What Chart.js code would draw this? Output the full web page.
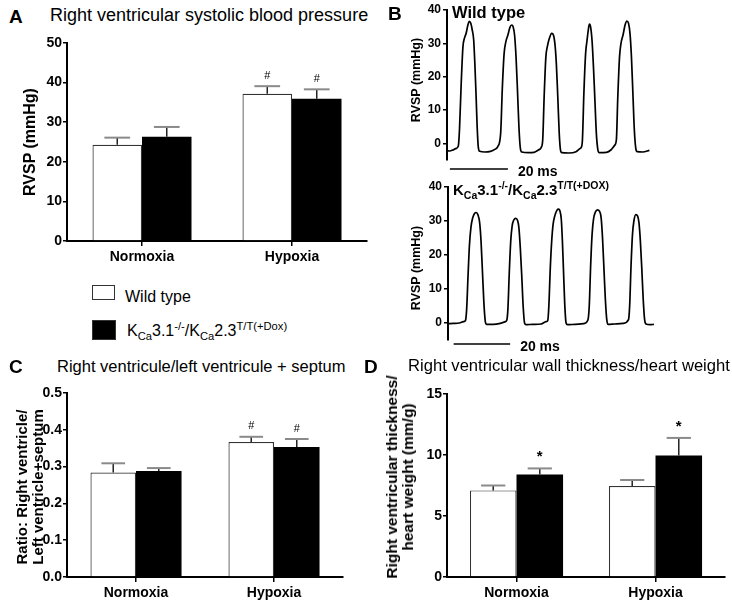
<!DOCTYPE html>
<html>
<head>
<meta charset="utf-8">
<script src="https://cdn.jsdelivr.net/npm/chart.js@4.4.0/dist/chart.umd.min.js"></script>
<style>
  body { margin: 0; background: #fff; }
  #page { position: relative; width: 732px; height: 602px; overflow: hidden; font-family: "Liberation Sans", Arial, sans-serif; color: #000; }
  canvas { position: absolute; }
  .t { position: absolute; white-space: nowrap; transform: translateY(-50%); line-height: 1; }
  .letter { font-weight: bold; font-size: 19px; }
  .title { font-size: 16.5px; }
  .ylab { position: absolute; white-space: nowrap; font-weight: bold; text-align: center; line-height: 1; transform: translate(-50%, -50%) rotate(-90deg); }
  .box { position: absolute; border: 1px solid #333; box-sizing: border-box; }
  sub, sup { font-size: 70%; line-height: 0; }
</style>
</head>
<body>
<div id="page">
  <canvas id="chartA" width="380" height="244" style="left:0;top:28px"></canvas>
  <canvas id="chartB1" width="352" height="180" style="left:380px;top:0"></canvas>
  <canvas id="chartB2" width="352" height="178" style="left:380px;top:177px"></canvas>
  <canvas id="chartC" width="360" height="222" style="left:0;top:380px"></canvas>
  <canvas id="chartD" width="352" height="222" style="left:380px;top:380px"></canvas>

  <div class="t letter" style="left:9px;top:16px">A</div>
  <div class="t title" style="left:50px;top:15px;font-size:18px">Right ventricular systolic blood pressure</div>
  <div class="ylab" style="left:30px;top:142px;font-size:16px">RVSP (mmHg)</div>

  <div class="box" style="left:92px;top:285px;width:23px;height:15px;background:#fff"></div>
  <div class="t" style="left:125px;top:297px;font-size:16px">Wild type</div>
  <div class="box" style="left:92px;top:320px;width:24px;height:20px;background:#000"></div>
  <div class="t" style="left:127px;top:331px;font-size:16px">K<sub>Ca</sub>3.1<sup>-/-</sup>/K<sub>Ca</sub>2.3<sup>T/T(+Dox)</sup></div>

  <div class="t letter" style="left:388px;top:13px">B</div>
  <div class="t" style="left:452px;top:12px;font-size:16.5px;font-weight:bold">Wild type</div>
  <div class="ylab" style="left:416px;top:80px;font-size:12.5px">RVSP (mmHg)</div>
  <div class="t" style="left:453px;top:189px;font-size:15px;font-weight:bold">K<sub>Ca</sub>3.1<sup>-/-</sup>/K<sub>Ca</sub>2.3<sup>T/T(+DOX)</sup></div>
  <div class="ylab" style="left:416px;top:268px;font-size:12.5px">RVSP (mmHg)</div>

  <div class="t letter" style="left:9px;top:366px">C</div>
  <div class="t title" style="left:57px;top:366px">Right ventricule/left ventricule + septum</div>
  <div class="ylab" style="left:30px;top:487px;font-size:15px;line-height:16px">Ratio: Right ventricle/<br>Left ventricle+septum</div>

  <div class="t letter" style="left:364px;top:366px">D</div>
  <div class="t title" style="left:408px;top:366px;font-size:16.6px">Right ventricular wall thickness/heart weight</div>
  <div class="ylab" style="left:400px;top:477px;font-size:15.5px;line-height:16px">Right ventricular thickness/<br>heart weight (mm/g)</div>
</div>

<script>
// ---- data ----
const groups = ['Normoxia', 'Hypoxia'];

// A: right ventricular systolic pressure (mmHg)
const rvspWT = [24.3, 37.2];
const rvspWTsem = [1.8, 1.9];
const rvspKO = [26.3, 35.9];
const rvspKOsem = [2.5, 2.4];
const rvspWTmarks = ['', '#'];
const rvspKOmarks = ['', '#'];
const rvspTicks = [0, 10, 20, 30, 40, 50];

// C: RV / (LV + septum)
const ratioWT = [0.284, 0.367];
const ratioWTsem = [0.025, 0.014];
const ratioKO = [0.288, 0.353];
const ratioKOsem = [0.008, 0.022];
const ratioWTmarks = ['', '#'];
const ratioKOmarks = ['', '#'];
const ratioTicks = [0, 0.1, 0.2, 0.3, 0.4, 0.5];

// D: RV wall thickness / heart weight (mm/g)
const thickWT = [7.1, 7.45];
const thickWTsem = [0.4, 0.5];
const thickKO = [8.4, 9.95];
const thickKOsem = [0.5, 1.45];
const thickWTmarks = ['', ''];
const thickKOmarks = ['*', '*'];
const thickTicks = [0, 5, 10, 15];

// B: pressure traces (time in ms, pressure in mmHg)
const wtTime = [0, 1, 2, 3, 3.9,
  4.3, 4.9, 5.5, 6.0, 6.6, 7.2, 7.7, 8.2, 8.7, 9.2, 9.6, 10.0, 10.4, 10.8, 11.3,
  13, 15, 16.5, 17.5,
  18.5, 19.1, 19.7, 20.3, 21.0, 21.7, 22.3, 22.8, 23.3, 23.8, 24.3, 24.8, 25.3, 25.8,
  28, 30, 31.5, 32.5,
  33.0, 33.5, 34.1, 34.6, 35.3, 36.1, 36.7, 37.2, 37.7, 38.2, 38.7, 39.1, 39.6,
  42, 44.5, 45.8, 46.4,
  46.7, 47.2, 47.8, 48.3, 48.8, 49.1, 49.5, 50.0, 50.5, 51.0, 51.5, 52.0, 52.5,
  55, 56.5, 57.8,
  58.4, 58.9, 59.5, 60.0, 60.7, 61.4, 62.0, 62.6, 63.1, 63.6, 64.1, 64.6, 65.1, 65.6,
  67.5, 69.8];
const wtPressure = [-2.2, -2.3, -2.0, -1.6, -0.8,
  4, 18, 29, 31.5, 33, 35.5, 36.6, 36, 34, 31, 24, 15, 5, -1.2, -2.4,
  -2.6, -2.4, -1.8, -1.0,
  3, 17, 27, 30.5, 32.5, 34.8, 35.5, 35, 32.5, 26, 16, 5, -1.5, -2.6,
  -2.8, -2.7, -2.0, -1.2,
  1, 14, 26, 29, 31.5, 33, 32.5, 30, 24, 14, 3, -1.8, -2.8,
  -2.9, -2.5, -1.6, -1.0,
  1, 15, 27, 31, 34.5, 35.8, 35, 31, 23, 13, 3, -1.8, -2.8,
  -2.7, -2.0, -0.6,
  1, 14, 26, 30, 32.5, 35.5, 36.7, 36, 33, 26, 15, 4, -1.5, -2.5,
  -2.6, -2.1];

const koTime = [0, 2, 4, 5.5, 6.2,
  6.6, 7.1, 7.6, 8.1, 8.7, 9.4, 10.0, 10.6, 11.2, 11.7, 12.2, 12.7, 13.2, 13.7,
  16, 18.5, 20.3, 20.8,
  21.2, 21.7, 22.2, 22.7, 23.3, 24.0, 24.6, 25.1, 25.6, 26.1, 26.6, 27.1, 27.6,
  30, 33, 34.7, 35.3,
  35.7, 36.2, 36.7, 37.2, 37.9, 38.6, 39.1, 39.6, 40.1, 40.5, 40.9, 41.3, 41.8, 42.3,
  45, 48, 49.5,
  50.0, 50.5, 51.0, 51.5, 52.2, 52.9, 53.6, 54.2, 54.7, 55.2, 55.7, 56.2, 56.7,
  59, 62, 63.9,
  64.3, 64.8, 65.3, 65.8, 66.5, 67.1, 67.6, 68.1, 68.6, 69.1, 69.6, 70.1,
  71.5, 72.9];
const koPressure = [-0.2, -0.1, 0.0, 0.4, 0.8,
  4, 14, 23, 28, 30.8, 32.2, 32.5, 31.8, 29.5, 24, 15, 6, 0.5, -0.4,
  -0.4, -0.1, 0.4, 0.8,
  4, 15, 24, 28.5, 30.3, 30.8, 30.2, 28, 22, 14, 5, 0, -0.5,
  -0.4, -0.3, 0.4, 0.7,
  5, 16, 24, 29, 31.8, 33.2, 33.5, 33, 30.5, 24, 15, 6, 0, -0.5,
  -0.4, -0.2, 0.8,
  5, 17, 26, 30.5, 32.7, 33.3, 32.9, 31, 25, 16, 7, 1, -0.4,
  -0.3, -0.1, 1.0,
  5, 17, 26, 30, 31.9, 31.5, 29.5, 24, 16, 7, 1, -0.3,
  -0.5, -0.4];

// ---- helpers ----
const FONT = '"Liberation Sans", Arial, sans-serif';

const errorBars = {
  id: 'errorBars',
  afterDatasetsDraw(chart) {
    const ctx = chart.ctx;
    const y = chart.scales.y;
    chart.data.datasets.forEach((ds, i) => {
      const meta = chart.getDatasetMeta(i);
      meta.data.forEach((bar, j) => {
        const top = y.getPixelForValue(ds.data[j] + ds.sem[j]);
        const base = bar.y;
        const half = bar.width * 0.26;
        ctx.save();
        ctx.strokeStyle = '#222';
        ctx.lineWidth = 1.5;
        ctx.beginPath();
        ctx.moveTo(bar.x, base);
        ctx.lineTo(bar.x, top);
        ctx.stroke();
        ctx.strokeStyle = '#8a8a8a';
        ctx.lineWidth = 2;
        ctx.beginPath();
        ctx.moveTo(bar.x - half, top);
        ctx.lineTo(bar.x + half, top);
        ctx.stroke();
        const m = ds.marks[j];
        if (m) {
          ctx.fillStyle = '#000';
          ctx.font = (m === '*' ? 'bold 15px ' : '11px ') + FONT;
          ctx.textAlign = 'center';
          ctx.textBaseline = 'bottom';
          ctx.fillText(m, bar.x, top - (m === '*' ? 4 : 5));
        }
        ctx.restore();
      });
    });
  }
};

const scaleBar = {
  id: 'scaleBar',
  afterDraw(chart, args, opts) {
    const ctx = chart.ctx;
    const x = chart.scales.x;
    const yy = chart.chartArea.bottom + opts.dy;
    ctx.save();
    ctx.strokeStyle = '#000';
    ctx.lineWidth = 1.5;
    ctx.beginPath();
    ctx.moveTo(x.getPixelForValue(opts.from), yy);
    ctx.lineTo(x.getPixelForValue(opts.to), yy);
    ctx.stroke();
    ctx.fillStyle = '#000';
    ctx.font = 'bold 14px ' + FONT;
    ctx.textBaseline = 'middle';
    ctx.fillText(opts.label, x.getPixelForValue(opts.to) + 10, yy + 3);
    ctx.restore();
  }
};

function barChart(id, wt, wtSem, wtMarks, ko, koSem, koMarks, ticks, pad, yWidth, xHeight, catPct) {
  new Chart(document.getElementById(id), {
    type: 'bar',
    data: {
      labels: groups,
      datasets: [
        { label: 'Wild type', data: wt, sem: wtSem, marks: wtMarks,
          backgroundColor: '#fff', borderColor: '#333', borderWidth: 1.2 },
        { label: 'KCa3.1-/-/KCa2.3T/T(+Dox)', data: ko, sem: koSem, marks: koMarks,
          backgroundColor: '#000', borderColor: '#000', borderWidth: 0 }
      ]
    },
    options: {
      responsive: false,
      animation: false,
      layout: { padding: pad },
      plugins: { legend: { display: false }, tooltip: { enabled: false } },
      datasets: { bar: { barPercentage: 1, categoryPercentage: catPct } },
      scales: {
        x: {
          grid: { drawOnChartArea: false, offset: false, tickLength: 5, color: '#000', lineWidth: 1.5 },
          border: { color: '#000', width: 2 },
          ticks: { color: '#000', padding: 3, font: { family: FONT, size: 14, weight: 'bold' } },
          afterFit(s) { s.height = xHeight; }
        },
        y: {
          min: ticks[0], max: ticks[ticks.length - 1],
          afterBuildTicks(s) { s.ticks = ticks.map(v => ({ value: v })); },
          grid: { drawOnChartArea: false, tickLength: 4, color: '#000', lineWidth: 1.5 },
          border: { color: '#000', width: 2 },
          ticks: {
            color: '#000', padding: 1,
            font: { family: FONT, size: 14, weight: 'bold' },
            callback: v => (ticks[1] < 1 ? v.toFixed(1) : v)
          },
          afterFit(s) { s.width = yWidth; }
        }
      }
    },
    plugins: [errorBars]
  });
}

function traceChart(id, time, pressure, pad, yWidth, bar) {
  new Chart(document.getElementById(id), {
    type: 'line',
    data: {
      datasets: [{
        data: time.map((t, i) => ({ x: t, y: pressure[i] })),
        borderColor: '#000', borderWidth: 1.7, pointRadius: 0,
        cubicInterpolationMode: 'monotone', fill: false
      }]
    },
    options: {
      responsive: false,
      animation: false,
      layout: { padding: pad },
      plugins: { legend: { display: false }, tooltip: { enabled: false }, scaleBar: bar },
      scales: {
        x: { type: 'linear', display: false, min: 0, max: 80 },
        y: {
          min: -5, max: 40,
          afterBuildTicks(s) { s.ticks = [0, 10, 20, 30, 40].map(v => ({ value: v })); },
          grid: { drawOnChartArea: false, tickLength: 4, color: '#000', lineWidth: 1.5 },
          border: { color: '#000', width: 2 },
          ticks: { color: '#000', padding: 2, font: { family: FONT, size: 12, weight: 'bold' } },
          afterFit(s) { s.width = yWidth; }
        }
      }
    },
    plugins: [scaleBar]
  });
}

barChart('chartA', rvspWT, rvspWTsem, rvspWTmarks, rvspKO, rvspKOsem, rvspKOmarks, rvspTicks,
  { top: 15, right: 13, left: 0, bottom: 0 }, 67, 31, 0.66);
barChart('chartC', ratioWT, ratioWTsem, ratioWTmarks, ratioKO, ratioKOsem, ratioKOmarks, ratioTicks,
  { top: 13, right: 17, left: 0, bottom: 0 }, 67, 25, 0.66);
barChart('chartD', thickWT, thickWTsem, thickWTmarks, thickKO, thickKOsem, thickKOmarks, thickTicks,
  { top: 14, right: 7, left: 0, bottom: 0 }, 67, 25, 0.67);

traceChart('chartB1', wtTime, wtPressure, { top: 10, right: 53, left: 0, bottom: 20 }, 67,
  { from: 1, to: 21, dy: 9, label: '20 ms' });
traceChart('chartB2', koTime, koPressure, { top: 10, right: 58, left: 0, bottom: 15 }, 68,
  { from: 2, to: 22, dy: 4, label: '20 ms' });
</script>
</body>
</html>
